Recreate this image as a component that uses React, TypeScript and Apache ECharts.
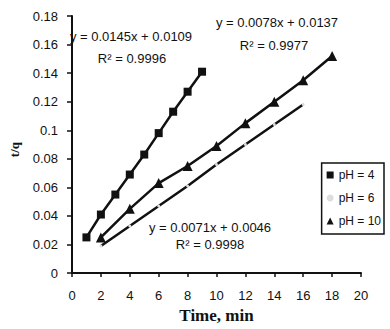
import React, { useEffect, useRef } from "react";
import * as echarts from "echarts";

const xPH4 = [1, 2, 3, 4, 5, 6, 7, 8, 9];
const yPH4 = [0.025, 0.041, 0.055, 0.069, 0.083, 0.098, 0.113, 0.127, 0.141];
const xPH6 = [2, 4, 6, 8, 10, 12, 14, 16];
const yPH6 = [0.019, 0.033, 0.047, 0.061, 0.076, 0.090, 0.104, 0.118];
const xPH10 = [2, 4, 6, 8, 10, 12, 14, 16, 18];
const yPH10 = [0.025, 0.045, 0.063, 0.075, 0.089, 0.105, 0.120, 0.135, 0.152];
const seriesNames = ["pH = 4", "pH = 6", "pH = 10"];
const eqTexts = [
  ["y = 0.0145x + 0.0109", "R\u00b2 = 0.9996"],
  ["y = 0.0071x + 0.0046", "R\u00b2 = 0.9998"],
  ["y = 0.0078x + 0.0137", "R\u00b2 = 0.9977"],
];

const pairs = (xs: number[], ys: number[]) => xs.map((x, i) => [x, ys[i]]);

export default function App() {
  const ref = useRef<HTMLDivElement>(null);
  useEffect(() => {
    if (!ref.current) return;
    const chart = echarts.init(ref.current, null, { renderer: "svg" });
    const font = "Arial, 'Liberation Sans', sans-serif";
    const eqStyle = {
      fontFamily: font,
      fontSize: 13,
      fill: "#111",
      textAlign: "center",
      textVerticalAlign: "middle",
    };
    const eq = (text: string, x: number, y: number) => ({
      type: "text",
      x,
      y,
      style: { ...eqStyle, text },
    });
    chart.setOption({
      animation: false,
      backgroundColor: "#fff",
      grid: { left: 67, right: 29, top: 16, bottom: 52 },
      xAxis: {
        type: "value",
        min: 0,
        max: 20,
        interval: 2,
        name: "Time, min",
        nameLocation: "middle",
        nameGap: 33,
        nameTextStyle: {
          fontFamily: "'Liberation Serif', 'DejaVu Serif', serif",
          fontWeight: "bold",
          fontSize: 17,
          color: "#111",
        },
        axisLine: { lineStyle: { color: "#111", width: 2 } },
        axisTick: { inside: false, length: 4, lineStyle: { color: "#111", width: 1.5 } },
        axisLabel: { fontFamily: font, fontSize: 13, color: "#111", margin: 16 },
        splitLine: { show: false },
      },
      yAxis: {
        type: "value",
        min: 0,
        max: 0.18,
        interval: 0.02,
        name: "t/q",
        nameLocation: "middle",
        nameGap: 51,
        nameTextStyle: {
          fontFamily: "'Liberation Serif', 'DejaVu Serif', serif",
          fontWeight: "bold",
          fontSize: 13,
          color: "#111",
          padding: [0, 10, 0, 0],
        },
        axisLine: { show: true, lineStyle: { color: "#111", width: 2 } },
        axisTick: { show: true, length: 5, lineStyle: { color: "#111", width: 1.5 } },
        axisLabel: { fontFamily: font, fontSize: 13, color: "#111", margin: 14 },
        splitLine: { show: false },
      },
      legend: {
        orient: "vertical",
        right: 6,
        top: 163,
        padding: [6, 3, 7, 5],
        itemGap: 11,
        itemWidth: 7,
        itemHeight: 7,
        borderColor: "#111",
        borderWidth: 1.5,
        borderRadius: 0,
        textStyle: { fontFamily: font, fontSize: 12, color: "#111", padding: [0, 0, 0, 0] },
        data: [
          { name: seriesNames[0], icon: "rect" },
          { name: seriesNames[1], icon: "circle", itemStyle: { color: "#ddd" } },
          { name: seriesNames[2], icon: "triangle" },
        ],
      },
      series: [
        {
          name: seriesNames[0],
          type: "line",
          data: pairs(xPH4, yPH4),
          symbol: "rect",
          symbolSize: 8,
          lineStyle: { color: "#111", width: 2.5 },
          itemStyle: { color: "#111" },
        },
        {
          name: seriesNames[1],
          type: "line",
          data: pairs(xPH6, yPH6),
          symbol: "circle",
          symbolSize: 3,
          lineStyle: { color: "#111", width: 2.5 },
          itemStyle: { color: "#ddd" },
        },
        {
          name: seriesNames[2],
          type: "line",
          data: pairs(xPH10, yPH10),
          symbol: "triangle",
          symbolSize: 10,
          lineStyle: { color: "#111", width: 2.5 },
          itemStyle: { color: "#111" },
        },
      ],
      graphic: [
        eq(eqTexts[0][0], 131, 36),
        eq(eqTexts[0][1], 132, 58),
        eq(eqTexts[2][0], 277, 22),
        eq(eqTexts[2][1], 274, 45),
        eq(eqTexts[1][0], 210, 227),
        eq(eqTexts[1][1], 210, 244),
      ],
    });
    return () => chart.dispose();
  }, []);
  return <div ref={ref} style={{ width: 390, height: 329, position: "absolute", left: 0, top: 0 }} />;
}
